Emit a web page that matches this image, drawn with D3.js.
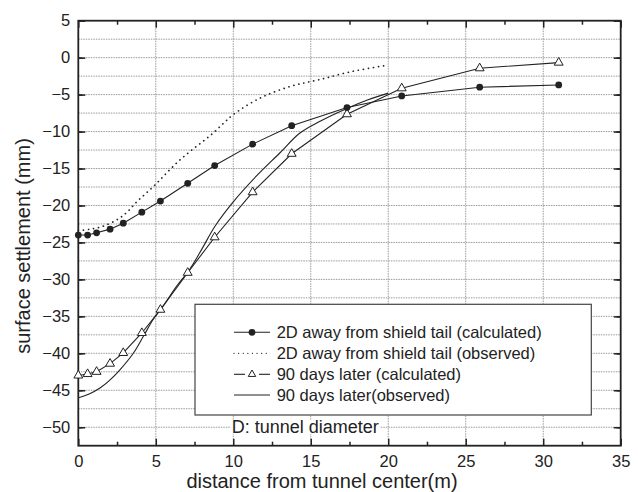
<!DOCTYPE html>
<html>
<head>
<meta charset="utf-8">
<script src="https://cdn.jsdelivr.net/npm/d3@7"></script>
<style>
  body { margin: 0; background: #fff; }
  text { font-family: "Liberation Sans", Arial, sans-serif; fill: #222; }
</style>
</head>
<body>
<div id="chart"></div>
<script>
// x positions of the calculated nodes (m)
var calcX = [0, 0.6, 1.18, 2.05, 2.9, 4.1, 5.3, 7.06, 8.8, 11.25, 13.77, 17.34, 20.87, 25.9, 31.0];
// 2D away from shield tail (calculated)
var calc2dY = [-24.0, -24.0, -23.7, -23.2, -22.4, -20.9, -19.4, -17.0, -14.6, -11.7, -9.2, -6.75, -5.18, -4.0, -3.69];
// 90 days later (calculated)
var calc90Y = [-43.0, -42.8, -42.5, -41.4, -39.95, -37.25, -34.1, -29.1, -24.3, -18.2, -13.0, -7.65, -4.14, -1.43, -0.67];

// 2D away from shield tail (observed)
var obs2dX = [0, 0.8, 1.6, 2.6, 3.2, 3.77, 4.4, 5.06, 5.7, 6.45, 7.2, 8.0, 8.7, 9.36, 10, 11.7, 13.66, 15.5, 17.6, 20];
var obs2dY = [-23.4, -23.2, -22.8, -21.8, -20.8, -19.5, -18.3, -17.0, -15.6, -14.05, -12.7, -11.4, -10.2, -8.9, -7.7, -5.5, -3.9, -3.0, -1.9, -1.0];

// 90 days later (observed)
var obs90X = [0, 0.7, 1.4, 2.0, 2.7, 3.55, 4.2, 4.84, 5.38, 6.35, 7.2, 8.0, 8.82, 10, 11.5, 13.0, 14.3, 15.6, 17.3, 18.7, 20];
var obs90Y = [-46, -45.5, -44.7, -43.7, -42.2, -40.0, -37.7, -35.4, -33.9, -30.9, -28.6, -25.8, -22.8, -19.5, -16.0, -12.9, -10.2, -8.6, -6.9, -5.7, -4.8];

var xTicks = [0, 5, 10, 15, 20, 25, 30, 35];
var yTicks = [5, 0, -5, -10, -15, -20, -25, -30, -35, -40, -45, -50];
var legendLabels = [
  "2D away from shield tail (calculated)",
  "2D away from shield tail (observed)",
  "90 days later (calculated)",
  "90 days later(observed)"
];

var width = 638, height = 492;
var plotL = 78.3, plotR = 620.7, plotT = 20.7, plotB = 445.7;

var svg = d3.select("#chart").append("svg")
  .attr("width", width)
  .attr("height", height);

var x = d3.scaleLinear().domain([0, 35]).range([plotL, plotR]);
var y = d3.scaleLinear().domain([-52.5, 5]).range([plotB, plotT]);

// grid lines (dotted)
var grid = svg.append("g").attr("stroke", "#9a9a9a").attr("stroke-width", 1).attr("stroke-dasharray", "1.5,1");
grid.selectAll(".gx").data([5, 10, 15, 20, 25, 30]).enter().append("line")
  .attr("x1", function (d) { return x(d); }).attr("x2", function (d) { return x(d); })
  .attr("y1", plotT).attr("y2", plotB);
grid.selectAll(".gy").data(d3.range(-50, 5, 2.5)).enter().append("line")
  .attr("y1", function (d) { return y(d); }).attr("y2", function (d) { return y(d); })
  .attr("x1", plotL).attr("x2", plotR);

// axes, ticks pointing inward
function styleAxis(g) {
  g.select(".domain").remove();
  g.selectAll(".tick line").attr("stroke", "#222").attr("stroke-width", 1.5);
  g.selectAll("text").style("font-size", "16.5px").attr("fill", "#222");
}
var minorX = d3.range(2.5, 35, 5);
var minorY = d3.range(-52.5 + 2.5, 5, 5);

svg.append("g").attr("transform", "translate(0," + plotB + ")")
  .call(d3.axisBottom(x).tickValues(xTicks).tickSize(-7).tickPadding(10)).call(styleAxis);
svg.append("g").attr("transform", "translate(0," + plotB + ")")
  .call(d3.axisBottom(x).tickValues(minorX).tickSize(-4).tickFormat("")).call(styleAxis);
svg.append("g").attr("transform", "translate(0," + plotT + ")")
  .call(d3.axisTop(x).tickValues(xTicks).tickSize(-7).tickFormat("")).call(styleAxis);
svg.append("g").attr("transform", "translate(0," + plotT + ")")
  .call(d3.axisTop(x).tickValues(minorX).tickSize(-4).tickFormat("")).call(styleAxis);

svg.append("g").attr("transform", "translate(" + plotL + ",0)")
  .call(d3.axisLeft(y).tickValues(yTicks).tickSize(-7).tickPadding(8)).call(styleAxis);
svg.append("g").attr("transform", "translate(" + plotL + ",0)")
  .call(d3.axisLeft(y).tickValues(minorY).tickSize(-4).tickFormat("")).call(styleAxis);
svg.append("g").attr("transform", "translate(" + plotR + ",0)")
  .call(d3.axisRight(y).tickValues(yTicks).tickSize(-7).tickFormat("")).call(styleAxis);
svg.append("g").attr("transform", "translate(" + plotR + ",0)")
  .call(d3.axisRight(y).tickValues(minorY).tickSize(-4).tickFormat("")).call(styleAxis);

// frame
svg.append("rect")
  .attr("x", plotL).attr("y", plotT)
  .attr("width", plotR - plotL).attr("height", plotB - plotT)
  .attr("fill", "none").attr("stroke", "#222").attr("stroke-width", 1.8);

function zip(xs, ys) {
  return xs.map(function (d, i) { return [d, ys[i]]; });
}
var straight = d3.line().x(function (d) { return x(d[0]); }).y(function (d) { return y(d[1]); });
var smooth = d3.line().curve(d3.curveCatmullRom.alpha(0.5))
  .x(function (d) { return x(d[0]); }).y(function (d) { return y(d[1]); });

var calc2d = zip(calcX, calc2dY);
var calc90 = zip(calcX, calc90Y);

// observed curves
svg.append("path").datum(zip(obs2dX, obs2dY))
  .attr("d", smooth).attr("fill", "none").attr("stroke", "#222")
  .attr("stroke-width", 1.7).attr("stroke-dasharray", "0.1,5").attr("stroke-linecap", "round");
svg.append("path").datum(zip(obs90X, obs90Y))
  .attr("d", smooth).attr("fill", "none").attr("stroke", "#222").attr("stroke-width", 1.1);

// calculated lines
svg.append("path").datum(calc90)
  .attr("d", straight).attr("fill", "none").attr("stroke", "#222").attr("stroke-width", 1.1);
svg.append("path").datum(calc2d)
  .attr("d", straight).attr("fill", "none").attr("stroke", "#222").attr("stroke-width", 1.1);

var tri = d3.symbol().type(d3.symbolTriangle).size(34);
svg.selectAll(".tri").data(calc90).enter().append("path")
  .attr("d", tri)
  .attr("transform", function (d) { return "translate(" + x(d[0]) + "," + y(d[1]) + ")"; })
  .attr("fill", "#fff").attr("stroke", "#222").attr("stroke-width", 1);
svg.selectAll(".dot").data(calc2d).enter().append("circle")
  .attr("cx", function (d) { return x(d[0]); })
  .attr("cy", function (d) { return y(d[1]); })
  .attr("r", 3.4).attr("fill", "#222");

// legend
var lg = svg.append("g");
lg.append("rect")
  .attr("x", 195).attr("y", 304.3).attr("width", 396.3).attr("height", 110.7)
  .attr("fill", "#fff").attr("stroke", "#444").attr("stroke-width", 1.2);
var rowY = [332.3, 353.3, 374.3, 395];
legendLabels.forEach(function (label, i) {
  var ly = rowY[i];
  if (i === 0) {
    lg.append("line").attr("x1", 234).attr("x2", 270).attr("y1", ly).attr("y2", ly)
      .attr("stroke", "#222").attr("stroke-width", 1.1);
    lg.append("circle").attr("cx", 252).attr("cy", ly).attr("r", 3.4).attr("fill", "#222");
  } else if (i === 1) {
    lg.append("line").attr("x1", 234).attr("x2", 270).attr("y1", ly).attr("y2", ly)
      .attr("stroke", "#222").attr("stroke-width", 1.2).attr("stroke-dasharray", "0.1,4.5").attr("stroke-linecap", "round");
  } else if (i === 2) {
    lg.append("line").attr("x1", 234).attr("x2", 245).attr("y1", ly).attr("y2", ly)
      .attr("stroke", "#222").attr("stroke-width", 1.1);
    lg.append("line").attr("x1", 259).attr("x2", 270).attr("y1", ly).attr("y2", ly)
      .attr("stroke", "#222").attr("stroke-width", 1.1);
    lg.append("path").attr("d", d3.symbol().type(d3.symbolTriangle).size(24))
      .attr("transform", "translate(252," + ly + ")")
      .attr("fill", "#fff").attr("stroke", "#222").attr("stroke-width", 1);
  } else {
    lg.append("line").attr("x1", 234).attr("x2", 270).attr("y1", ly).attr("y2", ly)
      .attr("stroke", "#222").attr("stroke-width", 1.1);
  }
  lg.append("text").attr("x", 276.7).attr("y", ly).attr("dy", "0.36em")
    .style("font-size", "16.5px").text(label);
});

// note with white background
var note = svg.append("g");
var noteBg = note.append("rect").attr("fill", "#fff");
var noteText = note.append("text").attr("x", 231.7).attr("y", 432.7)
  .style("font-size", "18px").text("D: tunnel diameter");
var bb = noteText.node().getBBox();
noteBg.attr("x", bb.x - 1).attr("y", bb.y + 3).attr("width", bb.width + 2).attr("height", bb.height - 6);

// axis titles
svg.append("text")
  .attr("x", 322).attr("y", 488)
  .attr("text-anchor", "middle")
  .style("font-size", "20px")
  .text("distance from tunnel center(m)");

svg.append("text")
  .attr("transform", "translate(23,246) rotate(-90)")
  .attr("text-anchor", "middle")
  .attr("dy", "0.35em")
  .style("font-size", "20px")
  .text("surface settlement (mm)");
</script>
</body>
</html>
